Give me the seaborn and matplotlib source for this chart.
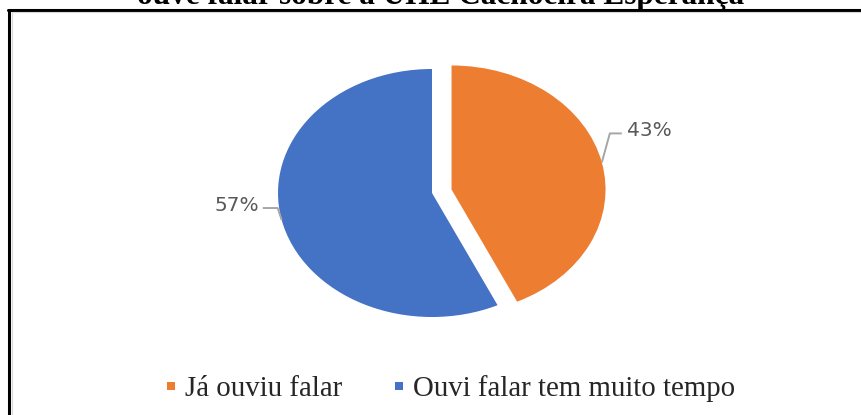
import matplotlib
matplotlib.use("Agg")
import matplotlib.pyplot as plt
import seaborn as sns
import numpy as np
from matplotlib.lines import Line2D

# ---- data ----
categories = ["Já ouviu falar", "Ouvi falar tem muito tempo"]
values = [43, 57]
pct_labels = ["43%", "57%"]
title = "ouve falar sobre a UHE Cachoeira Esperança"

sns.set_theme(style="white")
colors = sns.color_palette(["#ED7D31", "#4472C4"])

W, H = 861, 415
fig = plt.figure(figsize=(W / 100, H / 100), dpi=100)
ax = fig.add_axes([0, 0, 1, 1])
wedges, _ = ax.pie(values, colors=colors, startangle=90, counterclock=False,
                   explode=[0.13, 0], wedgeprops=dict(linewidth=0))
ax.set_aspect("auto")
cx, cy, rx, ry = 432, 193, 154, 124
ax.set_xlim(-cx / rx, (W - cx) / rx)
ax.set_ylim(-(H - cy) / ry, cy / ry)
ax.axis("off")

# leader lines + percentage labels
bends = [(0.052, 0.234), (-0.026, 0.097)]
runs = [0.078, -0.097]
gaps = [0.032, -0.026]
for w, lab, bend, run, gap in zip(wedges, pct_labels, bends, runs, gaps):
    th = np.deg2rad((w.theta1 + w.theta2) / 2)
    x0 = w.center[0] + w.r * np.cos(th)
    y0 = w.center[1] + w.r * np.sin(th)
    x1, y1 = x0 + bend[0], y0 + bend[1]
    x2 = x1 + run
    ax.plot([x0, x1, x2], [y0, y1, y1], color="#A6A6A6", lw=1.4,
            solid_capstyle="butt", clip_on=False)
    ax.text(x2 + gap, y1 + 0.024, lab, ha="left" if run > 0 else "right",
            va="center", color="#595959", fontsize=14.5,
            fontfamily="DejaVu Sans")

# legend
handles = [Line2D([], [], marker="s", linestyle="none", markersize=6,
                  markerfacecolor=c, markeredgewidth=0) for c in colors]
fig.legend(handles, categories, loc="center", ncol=2, frameon=False,
           bbox_to_anchor=(450 / W, 1 - 389 / H),
           prop={"family": "Liberation Serif", "size": 20.8},
           handlelength=0.4, handletextpad=0.3, columnspacing=1.75)

# title (cut off at top)
fig.text(441 / W, 1 - 4 / H, title, ha="center", va="baseline",
         fontfamily="Liberation Serif", fontweight="bold", fontsize=22.5,
         color="black")

# chart border (top and left)
fig.add_artist(Line2D([8 / W, 1], [1 - 10 / H, 1 - 10 / H], color="black",
                      lw=2.2, transform=fig.transFigure))
fig.add_artist(Line2D([9 / W, 9 / W], [0, 1 - 10 / H], color="black",
                      lw=2.2, transform=fig.transFigure))
fig.add_artist(Line2D([11.5 / W, 1], [1 - 12.5 / H, 1 - 12.5 / H],
                      color="#D9D9D9", lw=0.8, transform=fig.transFigure))
fig.add_artist(Line2D([11.5 / W, 11.5 / W], [0, 1 - 12.5 / H],
                      color="#D9D9D9", lw=0.8, transform=fig.transFigure))

fig.savefig("out.png", dpi=100)
